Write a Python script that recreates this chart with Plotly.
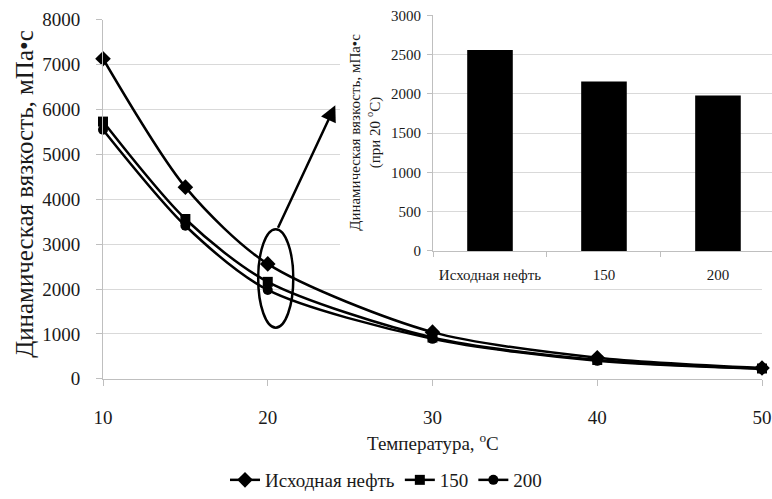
import plotly.graph_objects as go

# Main chart: dynamic viscosity vs temperature
temperature = [10, 15, 20, 30, 40, 50]
visc_initial = [7130, 4270, 2560, 1040, 470, 240]
visc_150 = [5730, 3560, 2160, 920, 420, 230]
visc_200 = [5550, 3410, 1980, 890, 400, 220]
series_names = ["Исходная нефть", "150", "200"]

# Inset: viscosity at 20 °C
bar_categories = ["Исходная нефть", "150", "200"]
bar_values = [2560, 2160, 1980]

y_ticks = [0, 1000, 2000, 3000, 4000, 5000, 6000, 7000, 8000]
x_ticks = [10, 20, 30, 40, 50]
inset_ticks = [0, 500, 1000, 1500, 2000, 2500, 3000]

W, H = 772, 499
FONT = "'Liberation Serif', 'Times New Roman', serif"
TXT = "#1a1a1a"
GRID = "#d9d9d9"
AXL = "#bfbfbf"


def px_x(p):
    return p / W


def px_y(p):
    return 1 - p / H


fig = go.Figure()

symbols = ["diamond", "square", "circle"]
sizes = [12, 10, 10]
for name, vals, sym, sz in zip(series_names, [visc_initial, visc_150, visc_200], symbols, sizes):
    fig.add_trace(go.Scatter(
        x=temperature, y=vals, name=name, mode="lines+markers",
        line=dict(color="black", width=2.5, shape="spline", smoothing=0.8),
        marker=dict(symbol=sym, size=sz, color="black"),
        cliponaxis=False, xaxis="x", yaxis="y",
    ))

# blank panel that masks the main grid behind the inset
fig.add_trace(go.Scatter(x=[], y=[], xaxis="x2", yaxis="y2", showlegend=False, hoverinfo="skip"))

fig.add_trace(go.Bar(
    x=bar_categories, y=bar_values, marker=dict(color="black", line=dict(width=0)),
    width=0.4, showlegend=False, xaxis="x3", yaxis="y3",
))

fig.add_shape(type="rect", xref="x2", yref="y2", x0=0, x1=1, y0=0, y1=1,
              fillcolor="white", line=dict(width=0), layer="below")

# highlight of the 20 °C points and the pointer to the inset
fig.add_shape(type="circle", xref="x", yref="y", x0=19.42, x1=21.55, y0=1140, y1=3333,
              line=dict(color="black", width=2.5), layer="above")
fig.add_annotation(x=24.1, y=6096, ax=20.58, ay=3333, xref="x", yref="y",
                   axref="x", ayref="y", text="", showarrow=True,
                   arrowhead=2, arrowsize=1.3, arrowwidth=2.5, arrowcolor="black")

# axis titles
fig.add_annotation(x=px_x(25), y=px_y(197), xref="paper", yref="paper",
                   xanchor="center", yanchor="middle",
                   text="Динамическая вязкость, мПа•с", textangle=-90, showarrow=False,
                   font=dict(family=FONT, size=25, color=TXT))
fig.add_annotation(x=px_x(433), y=px_y(449), xref="paper", yref="paper",
                   xanchor="center", yanchor="middle",
                   text="Температура, <sup>o</sup>C", showarrow=False,
                   font=dict(family=FONT, size=19, color=TXT))
fig.add_annotation(x=px_x(366), y=px_y(135), xref="paper", yref="paper",
                   xanchor="center", yanchor="middle",
                   text="Динамическая вязкость, мПа•с<br>(при 20 <sup>o</sup>C)", textangle=-90,
                   showarrow=False, font=dict(family=FONT, size=15, color=TXT))

fig.update_layout(
    template="none",
    width=W, height=H,
    margin=dict(l=0, r=0, t=0, b=0),
    paper_bgcolor="white", plot_bgcolor="white",
    font=dict(family=FONT, color=TXT),
    showlegend=True,
    legend=dict(orientation="h", x=0.5, xanchor="center", y=px_y(488), yanchor="middle",
                font=dict(family=FONT, size=19, color=TXT), itemwidth=30,
                bgcolor="rgba(0,0,0,0)"),
    xaxis=dict(domain=[px_x(103), px_x(762)], range=[10, 50], tickvals=x_ticks,
               showgrid=False, showline=True, linecolor=AXL, linewidth=1,
               ticks="outside", ticklen=6, tickcolor=AXL, zeroline=False,
               ticklabelstandoff=15,
               tickfont=dict(family=FONT, size=19, color=TXT), anchor="y", automargin=False),
    yaxis=dict(domain=[px_y(385), px_y(20)], range=[0, 8000], tickvals=y_ticks,
               showgrid=True, gridcolor=GRID, gridwidth=1, showline=True, linecolor=AXL,
               ticks="outside", ticklen=6, tickcolor=AXL, zeroline=False,
               ticklabelstandoff=12,
               tickfont=dict(family=FONT, size=19, color=TXT), anchor="x", automargin=False),
    xaxis2=dict(domain=[px_x(340), 1.0], range=[0, 1], visible=False, anchor="y2"),
    yaxis2=dict(domain=[px_y(286), 1.0], range=[0, 1], visible=False, anchor="x2"),
    xaxis3=dict(domain=[px_x(433), 1.0], range=[-0.5, 2.474], type="category",
                showgrid=False, showline=True, linecolor=AXL, ticks="outside",
                tickson="boundaries", ticklen=5, tickcolor=AXL, ticklabelstandoff=10,
                tickfont=dict(family=FONT, size=15, color=TXT), anchor="y3", automargin=False),
    yaxis3=dict(domain=[px_y(255), px_y(15.7)], range=[0, 3000], tickvals=inset_ticks,
                showgrid=True, gridcolor=GRID, showline=True, linecolor=AXL,
                ticks="outside", ticklen=5, tickcolor=AXL, zeroline=False,
                ticklabelstandoff=3,
                tickfont=dict(family=FONT, size=15, color=TXT), anchor="x3", automargin=False),
    bargap=0.6,
)

fig.write_html("out.html")
